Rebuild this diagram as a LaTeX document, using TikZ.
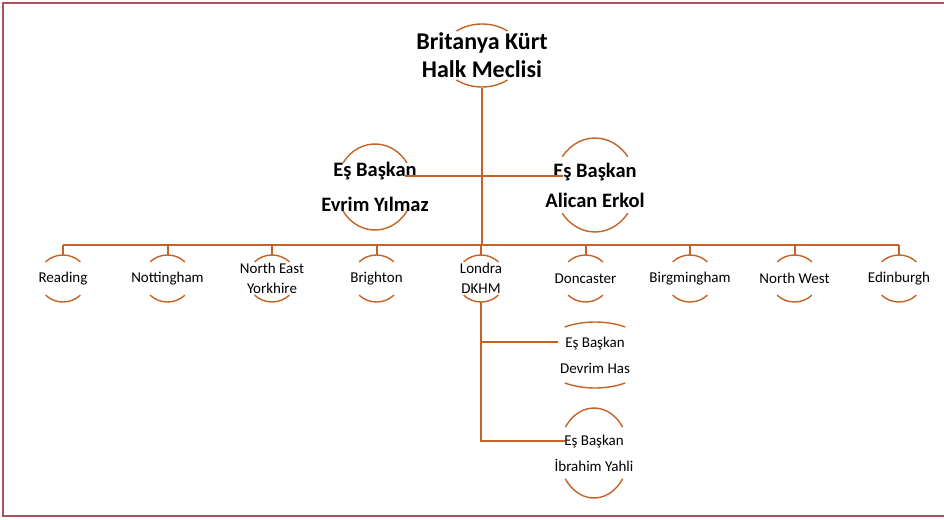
\documentclass[tikz,border=0pt]{standalone}
\usepackage{fontspec}
\setmainfont{Carlito}
\usepackage{tikz}
\usetikzlibrary{shapes.geometric}
\usepackage{xcolor}
\definecolor{linkorange}{RGB}{197,98,38}
\definecolor{framered}{RGB}{172,82,90}

% top and bottom arcs round a node: name, x radius, y radius, half angle
\newcommand{\ringarcs}[4]{%
  \draw[ring] ([shift={({-(#2)*sin(#4)},{-(#3)*cos(#4)})}]#1.center) arc[start angle={270-#4}, end angle={270+#4}, x radius=#2, y radius=#3];
  \draw[ring] ([shift={({(#2)*sin(#4)},{(#3)*cos(#4)})}]#1.center) arc[start angle={90-#4}, end angle={90+#4}, x radius=#2, y radius=#3];
}

\begin{document}
\begin{tikzpicture}[x=1pt, y=-1pt,
    ring/.style={draw=linkorange, line width=1.4pt},
    link/.style={draw=linkorange, line width=2pt},
    unit/.style={ellipse, inner sep=0pt, align=center, text=black},
    leaf/.style={unit, minimum width=49, minimum height=47, font=\fontsize{15}{20}\selectfont},
    sub/.style={unit, font=\fontsize{15}{26}\selectfont}]
    \useasboundingbox (0,0) rectangle (944,519);
    \draw[framered, line width=1.5pt] (944,3) -- (3,3) -- (3,516) -- (944,516);

    % top
    \node[unit, minimum width=81, minimum height=63, font=\bfseries\fontsize{24}{28}\selectfont] (meclis) at (482,55.5) {Britanya Kürt\\Halk Meclisi};
    \ringarcs{meclis}{40.5}{31.5}{39}

    % co-chairs
    \node[unit, minimum width=77, minimum height=86, font=\bfseries\fontsize{20.5}{35}\selectfont] (esL) at (375,187) {Eş Başkan\\Evrim Yılmaz};
    \node[unit, minimum width=82, minimum height=94, font=\bfseries\fontsize{20.5}{30}\selectfont] (esR) at (595,185) {Eş Başkan\\Alican Erkol};
    \ringarcs{esL}{38.6}{43}{56}
    \ringarcs{esR}{41}{47}{53}

    % branches
    \foreach \name/\txt [count=\i from 0] in {reading/Reading, nottingham/Nottingham, neyork/{North East\\Yorkhire}, brighton/Brighton, londra/{Londra\\DKHM}, doncaster/Doncaster, birmingham/Birgmingham, nwest/North West, edinburgh/Edinburgh}
    {
      \node[leaf] (\name) at ({63+104.5*\i},278.5) {\txt};
      \ringarcs{\name}{24.6}{23.5}{45}
    }

    % london co-chairs
    \node[sub, minimum width=114, minimum height=66] (esD) at (595,355) {Eş Başkan\\Devrim Has};
    \node[sub, minimum width=70, minimum height=90] (esI) at (594,453) {Eş Başkan\\İbrahim Yahli};
    \ringarcs{esD}{57}{33}{32}
    \ringarcs{esI}{35}{45}{55}

    % connectors
    \coordinate (bus) at (482,245);
    \coordinate (jco) at (482,176);
    \draw[link] (meclis.south) -- (meclis.south |- bus);
    \draw[link] ([xshift=30pt]esL.center |- jco) -- ([xshift=-32pt]esR.center |- jco);
    \draw[link] (reading.north |- bus) -- (edinburgh.north |- bus);
    \foreach \name in {reading, nottingham, neyork, brighton, londra, doncaster, birmingham, nwest, edinburgh}
      \draw[link] (\name.north) -- (\name.north |- bus);
    \draw[link] (londra.south) |- ([shift={(-37,-13)}]esD.center);
    \draw[link] (londra.south) |- ([shift={(-29,-12)}]esI.center);
\end{tikzpicture}
\end{document}
